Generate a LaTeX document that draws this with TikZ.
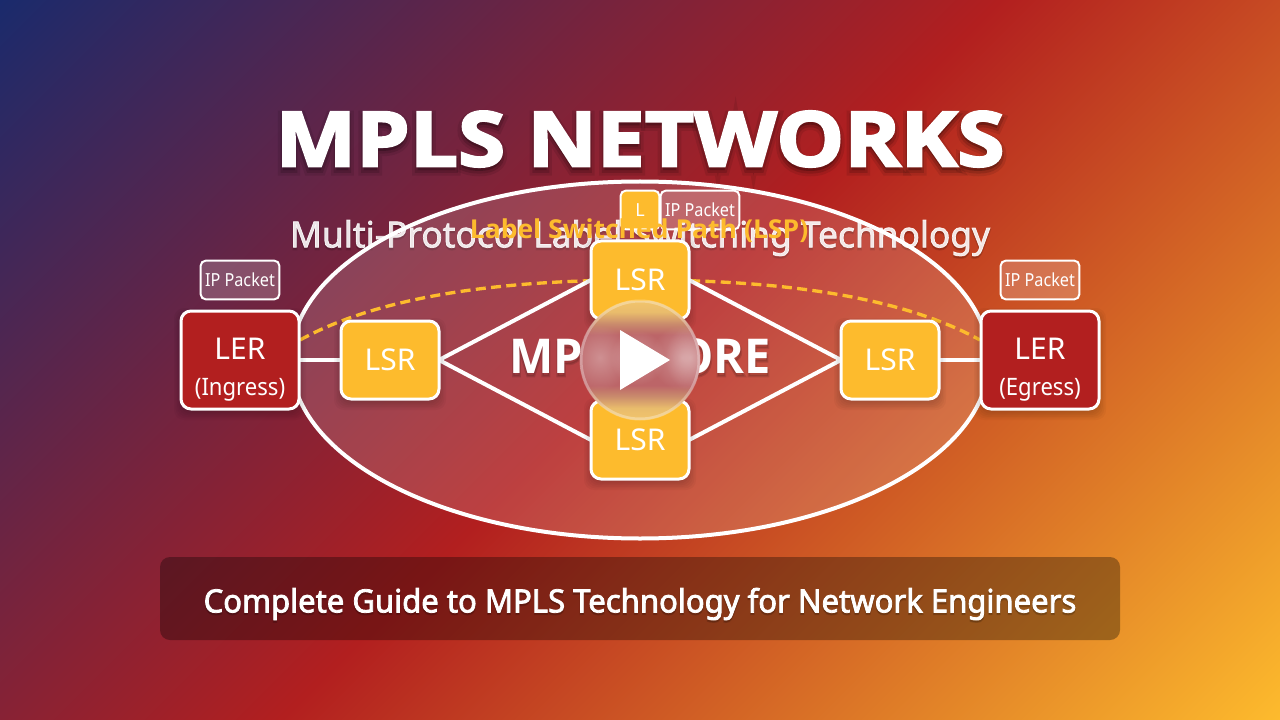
\documentclass[tikz,border=0pt]{standalone}
\usepackage{fontspec}
\setmainfont{Noto Sans}
\newfontfamily\hv{Open Sans}
\usetikzlibrary{shapes.geometric,fadings}
\pgfdeclarelayer{bgl}\pgfdeclarelayer{lower}\pgfdeclarelayer{edges}\pgfdeclarelayer{top}
\pgfsetlayers{bgl,lower,edges,main,top}
\definecolor{gA}{HTML}{1A2A6C}\definecolor{gB}{HTML}{B21F1F}\definecolor{gC}{HTML}{FDBB2D}
\definecolor{lerc}{HTML}{B21F1F}\definecolor{lsrc}{HTML}{FDBB2D}
\definecolor{pA}{HTML}{F2C56C}\definecolor{pB}{HTML}{E9BC6C}\definecolor{pC}{HTML}{C98A6C}\definecolor{pD}{HTML}{BC6568}
\pgfdeclarehorizontalshading{bgshade}{1060.66pt}{color(0pt)=(gA);color(530.33pt)=(gB);color(1060.66pt)=(gC)}
\pgfdeclareverticalshading{playshade}{90pt}{color(0pt)=(pA);color(9pt)=(pB);color(18pt)=(pC);color(26pt)=(pD);color(64pt)=(pD);color(72pt)=(pC);color(81pt)=(pB);color(90pt)=(pA)}
\tikzfading[name=blob,inner color=transparent!72,outer color=transparent!100]
\newcommand{\px}[1]{\fontsize{\dimexpr#1pt*3/4\relax}{\dimexpr#1pt*9/10\relax}\selectfont}
\newcommand{\softshadow}[5]{%
 \foreach \s in {0,1,...,7}{
  \fill[black,opacity=0.03,rounded corners=#5*.75pt] ({#1-6+\s*1.6},{#2+4-6+\s*1.6}) rectangle ({#3+6-\s*1.6},{#4+4+6-\s*1.6});
 }}
\tikzset{
 ler/.style={draw=white,line width=2.25pt,fill=lerc,rounded corners=7.5pt,minimum width=88.5pt,minimum height=73.5pt,inner sep=0pt,outer sep=0pt,text=white,align=center},
 lsr/.style={draw=white,line width=2.25pt,fill=lsrc,rounded corners=7.5pt,minimum width=73.5pt,minimum height=58.5pt,inner sep=0pt,outer sep=0pt,text=white,font=\px{30}},
 pkt/.style={draw=white,line width=1.5pt,fill=white,fill opacity=.2,text opacity=1,rounded corners=3.75pt,minimum width=59pt,minimum height=29pt,inner sep=0pt,outer sep=0pt,text=white,font=\px{18}\addfontfeature{FakeStretch=.9}},
 wire/.style={draw=white,line width=3pt},
 lsp/.style={draw=lsrc,line width=2.5pt,dash pattern=on 7.5pt off 4pt},
}
\begin{document}
\begin{tikzpicture}[x=.75pt,y=-.75pt]
\useasboundingbox (0,0) rectangle (1280,720);
\begin{pgfonlayer}{bgl}
 \begin{scope}
 \clip (0,0) rectangle (1280,720);
 \node[rotate=-45,inner sep=0pt,outer sep=0pt] (bgnode) at (640,360) {\pgfuseshading{bgshade}};
 \end{scope}
 % title
 \foreach \w/\o in {14/.09,7/.14}{
 \node[text=black,opacity=\o,font=\hv\bfseries\px{76}\addfontfeature{FakeBold=\w,FakeStretch=1.125}] at (640,143) {MPLS NETWORKS};
 }
 \node[text=white,font=\hv\bfseries\px{76}\addfontfeature{FakeBold=3,FakeStretch=1.125}] (title) at (640,139) {MPLS NETWORKS};
 % subtitle
 \node[text=black,opacity=.12,font=\px{36}\addfontfeature{FakeBold=5,FakeStretch=.98}] at (640,240) {Multi-Protocol Label Switching Technology};
 \node[text=white,opacity=.88,font=\px{36}\addfontfeature{FakeBold=2,FakeStretch=.98}] (subtitle) at (640,238) {Multi-Protocol Label Switching Technology};
 % footer
 \fill[black,opacity=.32,rounded corners=7.5pt] (160,557) rectangle (1120,640);
\end{pgfonlayer}
\begin{pgfonlayer}{lower}
 \node[ellipse,draw=white,line width=3pt,fill=white,fill opacity=.15,draw opacity=1,minimum width=523.5pt,minimum height=267.75pt,inner sep=0pt,outer sep=0pt] (core) at (640,360) {};
\end{pgfonlayer}
\softshadow{180}{310}{300}{410}{10}
\softshadow{980}{310}{1100}{410}{10}
\softshadow{340}{320}{440}{400}{10}
\softshadow{840}{320}{940}{400}{10}
\softshadow{590}{240}{690}{320}{10}
\softshadow{590}{400}{690}{480}{10}
\node[ler] (ingress) at (240,360) {\rule{0pt}{31pt}\px{30}LER\\[13pt]\px{24}\addfontfeature{FakeStretch=.92}(Ingress)};
\node[ler] (egress) at (1040,360) {\rule{0pt}{31pt}\px{30}LER\\[13pt]\px{24}\addfontfeature{FakeStretch=.92}(Egress)};
\node[lsr] (lsrleft) at (390,360) {LSR};
\node[lsr] (lsrright) at (890,360) {LSR};
\node[lsr] (lsrtop) at (640,280) {LSR};
\node[lsr] (lsrbot) at (640,440) {LSR};
\node[pkt] (pktin) at (240,280) {IP Packet};
\node[pkt] (pktout) at (1040,280) {IP Packet};
\node[pkt] (pktmid) at (700,210) {IP Packet};
\node[draw=white,line width=1.5pt,fill=lsrc,rounded corners=3.75pt,minimum width=29pt,minimum height=29pt,inner sep=0pt,outer sep=0pt,text=white,font=\px{18}] (lab) at (640,210) {L};
\node[text=lsrc,font=\hv\bfseries\px{26}\addfontfeature{FakeStretch=1.02}] (lsplabel) at (639,231) {Label Switched Path (LSP)};
\node[text=black,opacity=.12,font=\hv\bfseries\px{48}\addfontfeature{FakeBold=5,FakeStretch=.977}] at (640,359) {MPLS CORE};
\node[text=white,font=\hv\bfseries\px{48}\addfontfeature{FakeStretch=.977}] (coretext) at (640,356) {MPLS CORE};
\begin{pgfonlayer}{edges}
 \coordinate (arcL) at (300,340);
 \coordinate (arcT) at (640,280);
 \coordinate (arcR) at (980,340);
 \draw[lsp] (arcL) .. controls (380,296) and (500,280) .. (arcT) .. controls (780,280) and (900,296) .. (arcR);
 \draw[wire] (ingress.east) -- (lsrleft.west);
 \draw[wire] (lsrright.east) -- (egress.west);
 \draw[wire] (lsrleft.east) -- (lsrtop.west);
 \draw[wire] (lsrleft.east) -- (lsrbot.west);
 \draw[wire] (lsrtop.east) -- (lsrright.west);
 \draw[wire] (lsrbot.east) -- (lsrright.west);
\end{pgfonlayer}
\begin{pgfonlayer}{top}
 \node[text=black,opacity=.14,font=\px{32}\addfontfeature{FakeBold=5,FakeStretch=.97}] at (640,606) {Complete Guide to MPLS Technology for Network Engineers};
 \node[text=white,font=\px{32}\addfontfeature{FakeBold=2.5,FakeStretch=.97}] (footer) at (640,604) {Complete Guide to MPLS Technology for Network Engineers};
 \begin{scope}
  \clip (640,360) circle [radius=60];
  \node[inner sep=0pt,outer sep=0pt] at (640,360) {\pgfuseshading{playshade}};
  \fill[white,path fading=blob] (570,325) rectangle (630,390);
  \fill[white,path fading=blob] (610,330) rectangle (665,385);
  \fill[white,path fading=blob] (650,325) rectangle (715,390);
  \fill[white,path fading=blob] (665,325) rectangle (715,390);
 \end{scope}
 \draw[white,opacity=.3,line width=2.25pt] (640,360) circle [radius=59];
 \fill[white] (620,330) -- (670,360) -- (620,390) -- cycle;
\end{pgfonlayer}
\end{tikzpicture}
\end{document}
